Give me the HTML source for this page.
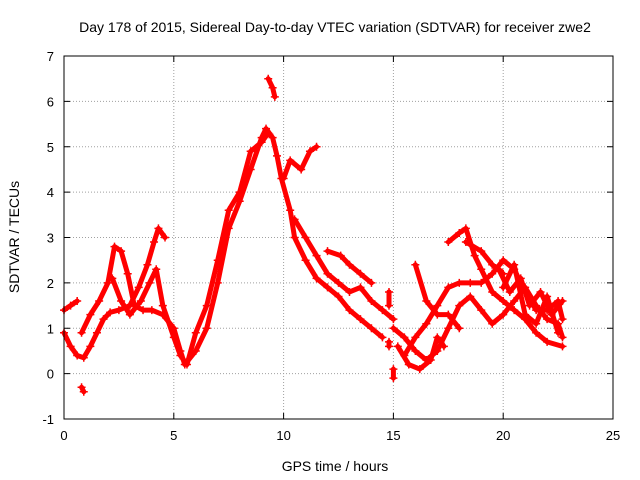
<!DOCTYPE html>
<html><head><meta charset="utf-8"><style>
body{margin:0;background:#fff;}
svg{display:block;font-family:"Liberation Sans",sans-serif;}
</style></head><body>
<svg id="chart" width="640" height="480">
<rect width="640" height="480" fill="#fff"/>
<g id="grid"></g>
<g id="series"></g>
<rect x="64" y="56" width="549" height="363" fill="none" stroke="#000" stroke-width="1"/>
<g id="axes"></g>
<text x="335" y="32" font-size="14" text-anchor="middle">Day 178 of 2015, Sidereal Day-to-day VTEC variation (SDTVAR) for receiver zwe2</text>
<text x="335" y="471" font-size="14" text-anchor="middle">GPS time / hours</text>
<text transform="translate(19,237) rotate(-90)" font-size="14" text-anchor="middle">SDTVAR / TECUs</text>
</svg>
<script>
const xTicks=[0,5,10,15,20,25];
const yTicks=[-1,0,1,2,3,4,5,6,7];
const tracks=[
[[0,0.9],[0.3,0.6],[0.6,0.4],[0.9,0.35],[1.2,0.6],[1.5,0.9],[1.8,1.2],[2.1,1.35],[2.5,1.4],[3,1.5],[3.4,1.9],[3.8,2.4],[4.1,2.9],[4.3,3.2],[4.6,3.0]],
[[0,1.4],[0.3,1.5],[0.6,1.6]],
[[0.8,0.9],[1.2,1.3],[1.6,1.6],[2,2.0],[2.3,2.8],[2.6,2.7],[2.9,2.2],[3.2,1.5],[3.6,1.4],[4,1.4],[4.5,1.3],[5,1.0],[5.3,0.5],[5.5,0.2],[6,0.5],[6.5,1.0],[7,2],[7.5,3.2],[8,3.8],[8.5,4.5],[9,5.2],[9.2,5.4],[9.5,5.2],[9.7,4.8],[9.9,4.3],[10.3,3.6],[10.5,3.0],[11,2.5],[11.5,2.1],[12,1.9],[12.5,1.7],[13,1.4],[13.5,1.2],[14,1.0],[14.5,0.8]],
[[2.2,2.1],[2.6,1.6],[3,1.3],[3.5,1.6],[3.9,2.0],[4.2,2.3],[4.5,1.5],[5,0.8],[5.3,0.4],[5.6,0.2],[6,0.9],[6.5,1.5],[7,2.5],[7.5,3.6],[8,4.0],[8.5,4.9],[9,5.1],[9.3,5.3]],
[[9.3,6.5],[9.5,6.3],[9.6,6.1]],
[[10,4.3],[10.3,4.7],[10.8,4.5],[11.2,4.9],[11.5,5.0]],
[[10.5,3.4],[11,3.0],[11.5,2.6],[12,2.2],[12.5,2.0],[13,1.8],[13.5,1.9],[14,1.6],[14.5,1.4],[15,1.2]],
[[12,2.7],[12.6,2.6],[13,2.4],[13.5,2.2],[14,2.0]],
[[0.8,-0.3],[0.9,-0.4]],
[[14.8,1.8],[14.8,1.5]],
[[14.8,0.7],[14.8,0.6]],
[[15,0.1],[15,-0.1]],
[[15,1.0],[15.5,0.8],[16,0.5],[16.5,0.3],[17,0.5],[17.5,1.0],[18,1.5],[18.5,1.7],[19,1.4],[19.5,1.1],[20,1.3],[20.5,1.6],[21,1.9],[21.5,1.5],[22,1.2],[22.5,1.1],[22.7,0.8]],
[[15.5,0.4],[16,0.8],[16.5,1.1],[17,1.5],[17.5,1.9],[18,2.0],[18.5,2.0],[19,2.0],[19.5,2.2],[20,2.5],[20.5,2.3],[21,1.8],[21.5,1.4],[22,1.4],[22.5,1.6],[22.7,1.2]],
[[15.2,0.6],[15.7,0.2],[16.2,0.1],[16.7,0.3],[17,0.8],[17.3,0.6]],
[[16,2.4],[16.5,1.6],[17,1.3],[17.5,1.3],[18,1.0]],
[[17.5,2.9],[18,3.1],[18.3,3.2],[18.7,2.6],[19,2.3],[19.5,1.8],[20,1.6],[20.5,1.4],[21,1.2],[21.5,0.9],[22,0.7],[22.7,0.6]],
[[18.3,2.9],[19,2.7],[19.5,2.4],[20,2.2]],
[[19.8,2.3],[20.3,1.8],[20.8,2.1],[21.2,1.5],[21.7,1.8],[22.2,1.3],[22.7,1.6]],
[[20,1.9],[20.5,2.4],[21,1.3],[21.5,1.1],[22,1.7],[22.5,0.9]]
];
const NS="http://www.w3.org/2000/svg";
const X0=64,X1=613,Y0=419,Y1=56;
const sx=v=>X0+(v-0)/(25-0)*(X1-X0);
const sy=v=>Y0-(v+1)/(7+1)*(Y0-Y1);
const grid=document.getElementById('grid'),axes=document.getElementById('axes'),ser=document.getElementById('series');
function mk(tag,at,parent){const e=document.createElementNS(NS,tag);for(const k in at)e.setAttribute(k,at[k]);parent.appendChild(e);return e;}
xTicks.forEach(t=>{
  const x=sx(t);
  if(t>0&&t<25){const g=mk('line',{x1:x,x2:x,y1:Y0,y2:Y1,stroke:'#a0a0a0','stroke-dasharray':'1,2'},grid);
  
  }
  mk('line',{x1:x,x2:x,y1:Y0,y2:Y0-6,stroke:'#000'},axes);
  mk('line',{x1:x,x2:x,y1:Y1,y2:Y1+6,stroke:'#000'},axes);
  const l=mk('text',{x:x,y:Y0+21,'font-size':13,'text-anchor':'middle'},axes);l.textContent=t;
  
  
});
yTicks.forEach(t=>{
  const y=sy(t);
  if(t>-1&&t<7){const g=mk('line',{x1:X0,x2:X1,y1:y,y2:y,stroke:'#a0a0a0','stroke-dasharray':'1,2'},grid);
  
  }
  mk('line',{x1:X0,x2:X0+6,y1:y,y2:y,stroke:'#000'},axes);
  mk('line',{x1:X1,x2:X1-6,y1:y,y2:y,stroke:'#000'},axes);
  const l=mk('text',{x:X0-10,y:y+5,'font-size':13,'text-anchor':'end'},axes);l.textContent=t;
  
  
});
tracks.forEach(tr=>{
  const p=mk('polyline',{points:tr.map(d=>sx(d[0])+','+sy(d[1])).join(' '),fill:'none',stroke:'#ff0000','stroke-width':5,'stroke-linejoin':'round','stroke-linecap':'round'},ser);
  
  
  tr.forEach(d=>{
    const x=sx(d[0]),y=sy(d[1]);
    const m=mk('path',{d:`M${x-4},${y}H${x+4}M${x},${y-4}V${y+4}`,stroke:'#ff0000','stroke-width':1.5},ser);
    
    
  });
});
</script>
</body></html>
